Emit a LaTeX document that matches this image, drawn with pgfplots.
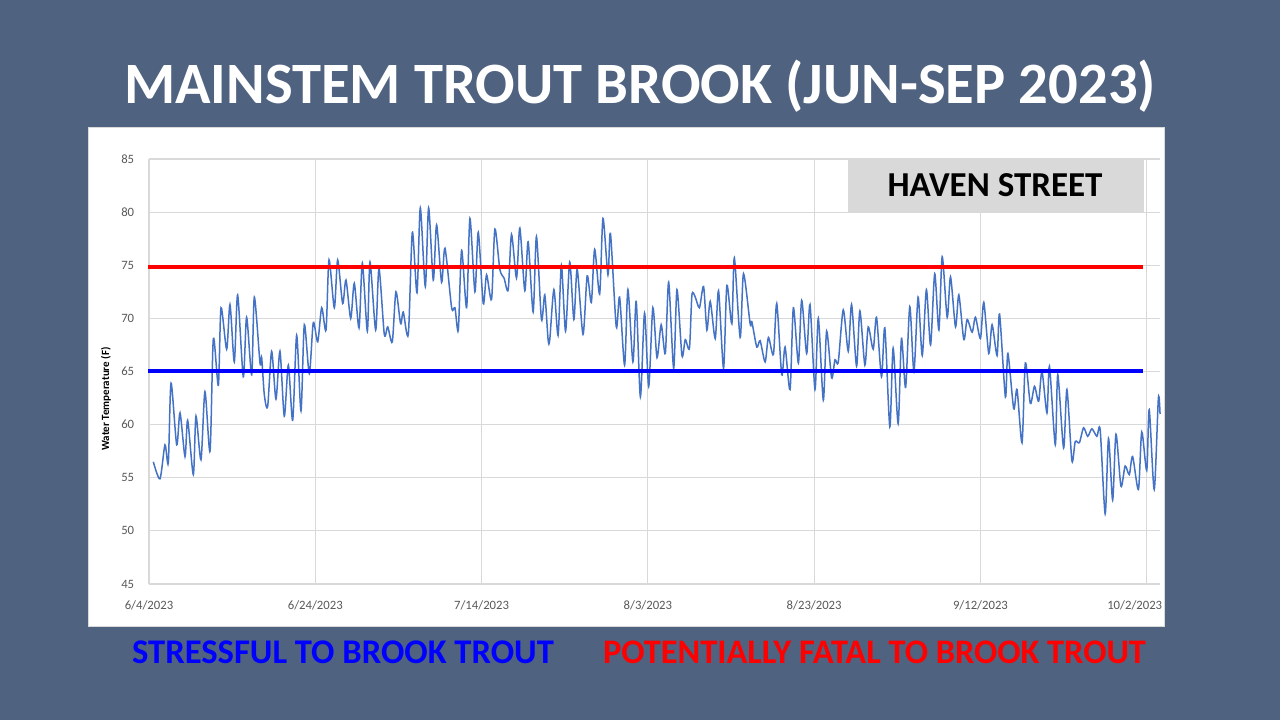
\documentclass[border=0pt]{standalone}
\usepackage{pgfplots}
\pgfplotsset{compat=1.18}
\usepackage{fontspec}
\setmainfont{Carlito}
\definecolor{bg}{HTML}{4F6280}
\definecolor{xlblue}{HTML}{4472C4}
\definecolor{gridgray}{HTML}{D9D9D9}
\definecolor{ticktext}{HTML}{595959}
\definecolor{boxgray}{HTML}{D9D9D9}
\pgfplotstableread{
day temp
0.52 56.5
1.32 54.9
1.92 58.1
2.32 56.4
2.65 63.9
3.33 58.1
3.73 61.1
4.33 57.0
4.65 60.4
5.33 55.3
5.65 60.8
6.25 56.7
6.73 63.1
7.34 57.5
7.74 68.1
8.34 63.7
8.66 71.0
9.34 67.1
9.74 71.3
10.26 65.9
10.66 72.2
11.34 64.5
11.74 70.1
12.35 64.7
12.67 72.0
13.35 65.8
13.55 66.3
13.87 62.8
14.27 61.7
14.75 66.9
15.27 62.4
15.75 66.9
16.27 60.8
16.76 65.6
17.28 60.4
17.76 68.4
18.28 61.3
18.68 69.4
19.28 64.8
19.76 69.6
20.29 67.8
20.77 71.0
21.29 68.9
21.65 75.5
22.29 71.0
22.69 75.5
23.29 71.4
23.69 73.6
24.26 70.0
24.69 73.3
25.26 69.1
25.66 75.2
26.26 68.8
26.58 75.3
27.26 68.9
27.66 74.7
28.3 68.5
28.71 69.2
29.26 67.8
29.7 72.5
30.26 69.5
30.58 70.6
31.19 68.5
31.67 78.1
32.23 72.4
32.63 80.4
33.23 73.0
33.63 80.4
34.19 73.6
34.59 78.8
35.19 73.4
35.6 76.6
36.4 71.0
36.8 71.0
37.2 68.9
37.6 76.4
38.2 71.0
38.6 79.4
39.2 72.5
39.6 78.1
40.2 71.4
40.6 74.1
41.2 71.8
41.6 78.4
42.2 74.6
42.7 73.8
43.2 72.7
43.6 77.9
44.2 73.8
44.6 78.5
45.2 72.6
45.6 77.2
46.2 70.6
46.6 77.7
47.2 69.9
47.6 72.2
48.0 68.0
48.2 68.0
48.7 72.7
49.2 68.4
49.6 75.0
50.1 68.8
50.6 75.3
51.1 69.9
51.5 74.6
52.2 68.5
52.7 74.0
53.2 71.5
53.6 76.5
54.2 72.3
54.6 79.4
55.2 74.1
55.5 78.0
56.2 69.2
56.6 72.0
57.2 65.6
57.6 72.7
58.2 65.9
58.6 71.6
59.1 62.6
59.6 70.5
60.1 63.6
60.6 71.0
61.1 66.3
61.6 69.4
62.1 66.7
62.5 73.4
63.1 65.3
63.5 72.7
64.1 66.5
64.5 68.0
65.0 67.2
65.3 72.2
65.7 72.0
66.2 71.0
66.7 73.0
67.1 68.9
67.5 71.6
68.1 68.1
68.5 72.6
69.1 65.3
69.5 73.1
70.1 69.5
70.4 75.7
71.1 68.2
71.5 74.2
72.3 69.5
72.5 69.7
73.1 67.3
73.5 67.9
74.1 65.9
74.5 68.2
75.1 66.6
75.5 71.4
76.1 64.7
76.5 67.3
77.1 63.3
77.5 71.0
78.1 65.8
78.5 71.7
79.1 66.7
79.5 71.3
80.1 63.3
80.5 70.0
81.1 62.3
81.5 68.8
82.1 64.4
82.5 66.1
82.9 65.9
83.5 70.8
84.1 66.9
84.5 71.3
85.1 65.5
85.5 70.7
86.1 65.6
86.5 69.2
87.1 67.1
87.5 70.1
88.1 64.5
88.5 69.1
89.1 59.8
89.5 67.2
90.1 60.1
90.5 68.1
91.0 63.5
91.5 71.1
92.0 65.0
92.5 72.0
93.0 66.5
93.5 72.7
94.0 67.5
94.5 74.2
95.0 68.9
95.4 75.8
96.0 70.1
96.4 73.9
97.0 69.2
97.4 72.2
98.0 68.0
98.4 69.9
99.0 68.7
99.4 70.1
100.0 68.1
100.4 71.5
101.0 66.7
101.4 69.4
102.0 66.5
102.3 70.4
103.0 62.6
103.3 66.7
104.0 61.5
104.4 63.3
105.0 58.3
105.4 65.8
106.0 62.0
106.5 63.6
107.0 62.2
107.4 65.0
108.0 61.1
108.3 65.5
109.0 58.1
109.3 64.7
110.0 57.8
110.4 63.3
111.0 56.6
111.4 58.4
111.9 58.3
112.4 59.7
112.9 58.9
113.4 59.6
114.0 58.9
114.4 59.5
115.0 51.6
115.4 58.7
115.9 52.9
116.3 59.1
116.9 54.2
117.4 56.1
117.9 55.3
118.3 57.0
119.0 53.9
119.4 59.3
120.0 55.7
120.3 61.4
120.9 53.9
121.4 62.5
121.6 61.0
}\tempdata
\begin{document}
\begin{tikzpicture}[x=0.5bp,y=0.5bp]
\fill[bg] (0,0) rectangle (1280,720);
\node[anchor=base, text=white, font=\fontsize{29.3bp}{33bp}\selectfont\bfseries, inner sep=0pt] at (640,616.7) {MAINSTEM TROUT BROOK (JUN-SEP 2023)};
\filldraw[fill=white, draw=gridgray, line width=0.5bp] (88,94) rectangle (1164,592);
\begin{axis}[
  at={(74.5bp,68bp)}, anchor=south west,
  scale only axis, width=505.5bp, height=212.5bp,
  xmin=0, xmax=121.6, ymin=45, ymax=85,
  clip=false,
  xtick={0,20,40,60,80,100,120},
  xticklabels={6/4/2023,6/24/2023,7/14/2023,8/3/2023,8/23/2023,9/12/2023,10/2/2023\hspace*{12bp}},
  ytick={45,50,55,60,65,70,75,80,85},
  grid=major,
  major grid style={gridgray, line width=0.6bp},
  axis line style={draw=none},
  major tick length=0pt,
  tick style={draw=none},
  /pgf/number format/assume math mode=true,
  ticklabel style={font=\fontsize{6.35bp}{7.5bp}\selectfont, text=ticktext},
  xticklabel style={yshift=-5bp},
  yticklabel style={xshift=-3.9bp},
]
\addplot[xlblue, line width=0.75bp, smooth, tension=0.45] table[x=day, y=temp] {\tempdata};
\addplot[red, line width=2bp] coordinates {(-0.16,74.87) (119.58,74.87)};
\addplot[blue, line width=2bp] coordinates {(-0.16,65.08) (119.58,65.08)};
\end{axis}
\fill[boxgray] (848,508.3) rectangle (1144,561.7);
\node[anchor=base, text=black, font=\fontsize{17.5bp}{20bp}\selectfont\bfseries, inner sep=0pt] at (995,523.3) {HAVEN STREET};
\node[rotate=90, font=\fontsize{5.5bp}{6.5bp}\selectfont\bfseries, text=black] at (106,321) {Water Temperature (F)};
\node[anchor=base, text=blue, font=\fontsize{17.3bp}{20bp}\selectfont\bfseries, inner sep=0pt] at (343,56.7) {STRESSFUL TO BROOK TROUT};
\node[anchor=base, text=red, font=\fontsize{17.2bp}{20bp}\selectfont\bfseries, inner sep=0pt] at (874.5,56.7) {POTENTIALLY FATAL TO BROOK TROUT};
\end{tikzpicture}
\end{document}
